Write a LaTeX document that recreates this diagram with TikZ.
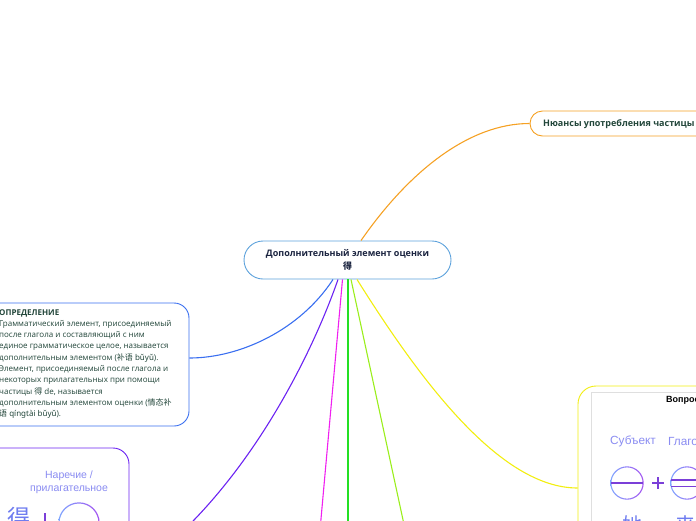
\documentclass[tikz,border=0pt]{standalone}
\usepackage{fontspec}
\setmainfont{Open Sans}
\newfontfamily\cjk{Noto Sans CJK SC}
\newfontfamily\pin{Noto Sans}
\newfontfamily\arial{Liberation Sans}
\usetikzlibrary{calc}
\definecolor{cnavy}{HTML}{1B2440}
\definecolor{ctext}{HTML}{22463A}
\definecolor{ccent}{HTML}{5DA2DC}
\definecolor{corange}{HTML}{F5A124}
\definecolor{cdef}{HTML}{3A6FF0}
\definecolor{cpur}{HTML}{6B22F2}
\definecolor{cmag}{HTML}{F020F0}
\definecolor{cgreen}{HTML}{24E024}
\definecolor{cyg}{HTML}{9AEE1C}
\definecolor{cyel}{HTML}{F2EE10}
\definecolor{cltxt}{HTML}{8A8CF2}
\definecolor{cglyph}{HTML}{6E7CF0}
\definecolor{cpl}{HTML}{7B3FD8}
\definecolor{ringA}{HTML}{7FA6FF}
\definecolor{ringB}{HTML}{A452F0}
\begin{document}
\begin{tikzpicture}[x=1pt,y=-1pt,
  box/.style={draw, rounded corners=#1, line width=0.9pt, fill=white, inner sep=0pt},
  link/.style={line width=1.1pt},
  ptxt/.style={font=\arial\fontsize{10.5}{12}\selectfont, text=cltxt, inner sep=0pt},
  plusline/.style={draw=cpl, line width=2pt},
]
\useasboundingbox (0,0) rectangle (696,520);
\clip (0,0) rectangle (696,520);

% central node
\node[box=19pt, draw=ccent, minimum width=207pt, minimum height=38pt, align=center,
      font=\fontsize{9}{13}\selectfont\bfseries, text=cnavy] (c) at (347.5,260)
      {Дополнительный элемент оценки\\{\cjk\bfseries 得}};

% right top node
\node[box=12.5pt, draw=corange, minimum width=190pt, minimum height=25pt] (ny) at (625,123.5) {};
\node[anchor=west, inner sep=0pt, font=\fontsize{9}{11}\selectfont\bfseries, text=ctext] (nyt) at (543,124)
      {Нюансы употребления частицы};

% definition node
\node[box=15pt, draw=cdef, minimum width=209pt, minimum height=123pt] (def) at (84.5,364.5) {};
\node[anchor=north west, inner sep=0pt, align=left, font=\fontsize{8}{11.3}\selectfont, text=ctext] (deft) at (-1,309)
  {\textbf{ОПРЕДЕЛЕНИЕ}\\
   Грамматический элемент, присоединяемый\\
   после глагола и составляющий с ним\\
   единое грамматическое целое, называется\\
   дополнительным элементом ({\cjk 补语} {\pin bǔyǔ}).\\
   Элемент, присоединяемый после глагола и\\
   некоторых прилагательных при помощи\\
   частицы {\cjk 得} de, называется\\
   дополнительным элементом оценки ({\cjk 情态补}\\
   {\cjk 语} {\pin qíngtài bǔyǔ}).};

% purple node
\node[box=16pt, draw=cpur, minimum width=149pt, minimum height=254pt] (pur) at (54.5,575) {};
\node[ptxt] (adv1) at (69,476) {Наречие /};
\node[ptxt] (adv2) at (69,490) {прилагательное};
\node[inner sep=0pt, font=\cjk\fontsize{23}{23}\selectfont, text=cglyph] (de) at (19,518) {得};
\path[left color=ringA, right color=ringB, even odd rule] (79,523) circle[radius=20.7] (79,523) circle[radius=19.5];
\draw[plusline] (45,513) -- (45,537);

% yellow node
\node[box=18pt, draw=cyel, minimum width=162pt, minimum height=204pt] (yel) at (659,488) {};
\draw[gray!25, line width=0.8pt] (591,392) rectangle (740,600);
\node[anchor=west, inner sep=0pt, font=\arial\fontsize{9}{11}\selectfont\bfseries, text=black] (q) at (666,400) {Вопрос};
\node[anchor=west, ptxt, font=\arial\fontsize{11.8}{13}\selectfont] (subj) at (610,441) {Субъект};
\node[anchor=west, ptxt, font=\arial\fontsize{11.8}{13}\selectfont] (verb) at (668,441) {Глагол};
\path[left color=ringA, right color=ringB, even odd rule] (627,483) circle[radius=16.7] (627,483) circle[radius=15.6];
\draw[draw=cpl, line width=2pt] (611,483) -- (643,483);
\draw[plusline] (652,483) -- (664,483) (658,477) -- (658,489);
\path[left color=ringA, right color=ringB, even odd rule] (687,483) circle[radius=16.7] (687,483) circle[radius=15.6];
\draw[draw=cpl, line width=1.8pt] (671,480) -- (703,480) (671,486.5) -- (703,486.5);
\node[inner sep=0pt, font=\cjk\fontsize{20}{20}\selectfont, text=cglyph] (ta) at (632,525) {她};
\node[inner sep=0pt, font=\cjk\fontsize{20}{20}\selectfont, text=cglyph] (lai) at (685,525) {来};

% free ends of the lower branches
\coordinate (mE) at (320,530);
\coordinate (gE) at (348,530);
\coordinate (ygE) at (405.2,530);

% connectors
\draw[link, draw=corange] ([xshift=13.5pt]c.north) .. controls (410,170) and (470,123.5) .. (ny.west);
\draw[link, draw=cdef] ([xshift=-14.5pt]c.south) .. controls (300,330) and (240,358) .. ([yshift=6.5pt]def.east);
\draw[link, draw=cpur] ([xshift=-9.5pt]c.south) .. controls (310,360) and (240,500) .. (pur.east);
\draw[link, draw=cmag] ([xshift=-5pt]c.south) -- (mE);
\draw[link, draw=cgreen] ([xshift=0.5pt]c.south) -- (gE);
\draw[link, draw=cyg] ([xshift=3.5pt]c.south) -- (ygE);
\draw[link, draw=cyel] ([xshift=9.5pt]c.south) .. controls (420,380) and (500,488) .. (yel.west);
\end{tikzpicture}
\end{document}
